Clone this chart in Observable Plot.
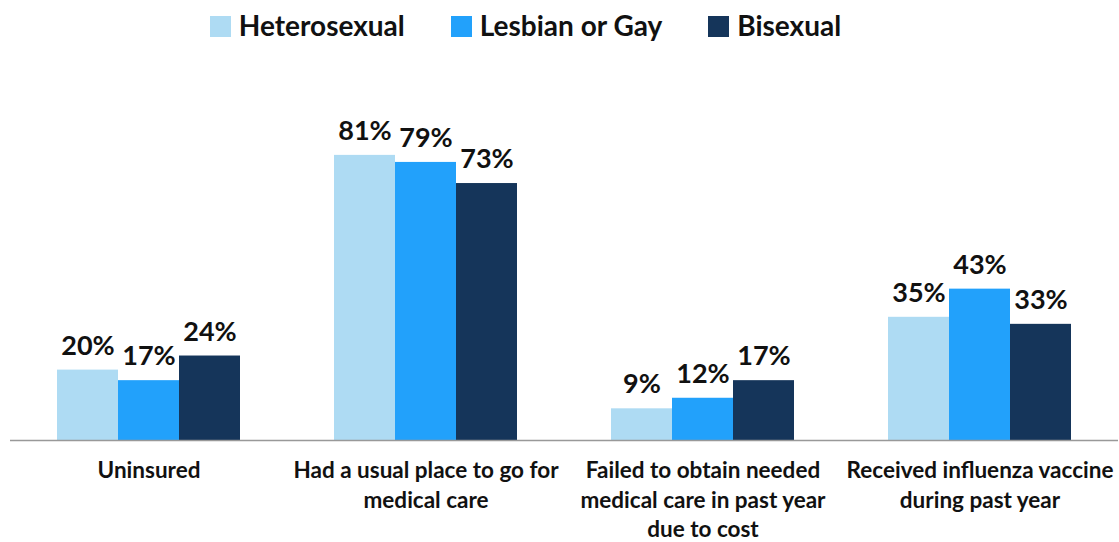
<!DOCTYPE html>
<html><head><meta charset="utf-8">
<script src="https://cdn.jsdelivr.net/npm/d3@7"></script>
<script src="https://cdn.jsdelivr.net/npm/@observablehq/plot@0.6"></script>
<style>
body{margin:0;background:#fff;font-family:Lato,"Noto Sans",sans-serif;}
#legend{height:50px;display:flex;justify-content:center;align-items:center;gap:46px;font-weight:bold;font-size:28px;color:#111;padding-right:68px;box-sizing:border-box;}
#legend span.sw{display:inline-block;width:21px;height:21px;margin-right:8px;vertical-align:-1px;}
</style></head>
<body>
<div id="legend"></div>
<div id="chart"></div>
<script>
const categories = ["Uninsured", "Had a usual place to go for\nmedical care", "Failed to obtain needed\nmedical care in past year\ndue to cost", "Received influenza vaccine\nduring past year"];
const series = ["Heterosexual", "Lesbian or Gay", "Bisexual"];
const heterosexual = [20, 81, 9, 35];
const lesbianGay = [17, 79, 12, 43];
const bisexual = [24, 73, 17, 33];
const colors = ["#AEDBF3", "#22A1FB", "#15355A"];

const values = [heterosexual, lesbianGay, bisexual];
const data = [];
categories.forEach((c, i) => series.forEach((s, j) => data.push({category: c, series: s, value: values[j][i]})));

const legend = document.getElementById("legend");
series.forEach((s, j) => {
  const d = document.createElement("div");
  d.innerHTML = `<span class="sw" style="background:${colors[j]}"></span>${s}`;
  legend.appendChild(d);
});

const chart = Plot.plot({
  width: 1119,
  height: 492,
  marginLeft: 10,
  marginRight: 1,
  marginTop: 38,
  marginBottom: 102,
  style: {fontFamily: "Lato, 'Noto Sans', sans-serif", fontWeight: "bold", color: "#111"},
  fx: {domain: categories, padding: 0, label: null},
  x: {domain: series, paddingInner: 0, paddingOuter: 0.76, axis: null},
  y: {domain: [0, 100], axis: null},
  color: {domain: series, range: colors},
  marks: [
    Plot.barY(data, {fx: "category", x: "series", y: "value", fill: "series"}),
    Plot.text(data, {fx: "category", x: "series", y: "value", text: d => d.value + "%", dy: -24, fontSize: 27, fill: "#111"}),
    Plot.ruleY([0], {stroke: "#999", strokeWidth: 1.5}),
    Plot.axisFx({anchor: "bottom", tickSize: 0, tickPadding: 17, fontSize: 22.5, lineHeight: 1.3, label: null})
  ]
});
document.getElementById("chart").appendChild(chart);
</script>
</body></html>
